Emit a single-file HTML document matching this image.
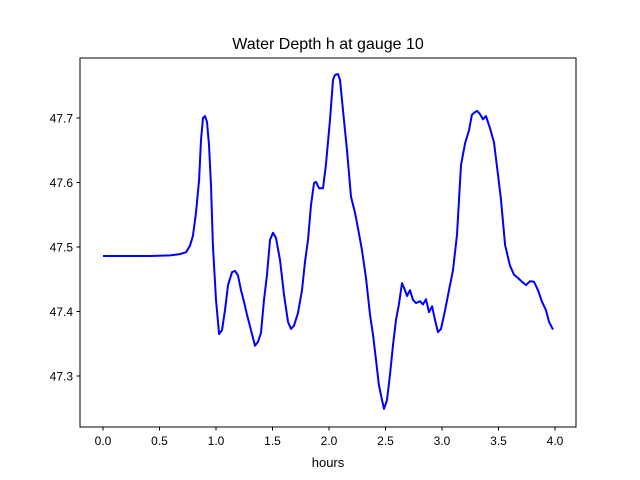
<!DOCTYPE html>
<html><head><meta charset="utf-8"><style>
body{margin:0;background:#fff}
svg{display:block;font-family:"Liberation Sans","DejaVu Sans",sans-serif}
</style></head><body>
<svg id="chart" width="640" height="480" viewBox="0 0 640 480" xmlns="http://www.w3.org/2000/svg">
<rect width="640" height="480" fill="#fff"/>
<text x="328" y="49" text-anchor="middle" font-size="16">Water Depth h at gauge 10</text>
<g id="ticks"></g>
<path id="line" fill="none" stroke="#0000ff" stroke-width="2" stroke-linejoin="round"/>
<rect x="80" y="58" width="496" height="369" fill="none" stroke="#000" stroke-width="1"/>
<text x="328" y="467" text-anchor="middle" font-size="13">hours</text>
</svg>
<script>
const hours=[0,0.416,0.593,0.681,0.735,0.770,0.796,0.823,0.850,0.867,0.885,0.903,0.920,0.938,0.956,0.973,1.000,1.027,1.053,1.080,1.106,1.142,1.168,1.195,1.221,1.248,1.274,1.319,1.345,1.372,1.398,1.425,1.451,1.478,1.504,1.531,1.566,1.602,1.637,1.664,1.690,1.726,1.761,1.788,1.814,1.841,1.867,1.885,1.912,1.947,1.973,2.009,2.035,2.053,2.080,2.097,2.124,2.159,2.195,2.230,2.257,2.292,2.327,2.363,2.389,2.416,2.442,2.469,2.487,2.513,2.540,2.566,2.593,2.619,2.646,2.673,2.690,2.717,2.743,2.770,2.805,2.832,2.858,2.885,2.912,2.938,2.965,2.991,3.027,3.062,3.097,3.133,3.168,3.204,3.239,3.265,3.283,3.310,3.336,3.363,3.389,3.425,3.460,3.496,3.522,3.558,3.602,3.637,3.673,3.708,3.743,3.779,3.814,3.850,3.885,3.920,3.947,3.982];
const depth=[47.486,47.486,47.487,47.489,47.492,47.502,47.517,47.553,47.604,47.666,47.700,47.703,47.694,47.658,47.596,47.503,47.418,47.365,47.371,47.402,47.441,47.461,47.463,47.456,47.433,47.415,47.395,47.365,47.347,47.353,47.367,47.418,47.457,47.511,47.522,47.514,47.480,47.426,47.384,47.373,47.378,47.398,47.433,47.477,47.511,47.565,47.599,47.601,47.591,47.591,47.627,47.697,47.759,47.767,47.768,47.759,47.712,47.650,47.578,47.553,47.529,47.495,47.452,47.395,47.364,47.325,47.286,47.263,47.249,47.263,47.302,47.348,47.387,47.411,47.444,47.433,47.424,47.433,47.418,47.413,47.416,47.411,47.419,47.399,47.408,47.387,47.368,47.373,47.402,47.433,47.464,47.519,47.627,47.661,47.681,47.705,47.708,47.711,47.706,47.698,47.703,47.684,47.662,47.612,47.573,47.503,47.471,47.457,47.452,47.446,47.441,47.447,47.446,47.433,47.415,47.402,47.384,47.372];
const xTicks=[0,0.5,1.0,1.5,2.0,2.5,3.0,3.5,4.0];
const xTickLabels=["0.0","0.5","1.0","1.5","2.0","2.5","3.0","3.5","4.0"];
const yTicks=[47.3,47.4,47.5,47.6,47.7];
const yTickLabels=["47.3","47.4","47.5","47.6","47.7"];
const X=h=>103+h*113;
const Y=v=>118+(47.7-v)*645;
const NS="http://www.w3.org/2000/svg";
const g=document.getElementById('ticks');
function mk(t,a){const e=document.createElementNS(NS,t);for(const k in a)e.setAttribute(k,a[k]);return e;}
xTicks.forEach((t,i)=>{
  const l=mk('line',{x1:X(t),x2:X(t),y1:427,y2:430.5,stroke:'#000'});
  
  
  g.appendChild(l);
  const s=mk('text',{x:X(t),y:445,'text-anchor':'middle','font-size':'12'});
  
  
  s.textContent=xTickLabels[i];g.appendChild(s);
});
yTicks.forEach((t,i)=>{
  const l=mk('line',{x1:76.5,x2:80,y1:Y(t),y2:Y(t),stroke:'#000'});
  
  
  g.appendChild(l);
  const s=mk('text',{x:73,y:Y(t)+4.5,'text-anchor':'end','font-size':'12'});
  
  
  s.textContent=yTickLabels[i];g.appendChild(s);
});
document.getElementById('line').setAttribute('d',hours.map((h,i)=>(i?'L':'M')+X(h).toFixed(1)+','+Y(depth[i]).toFixed(1)).join(''));
</script>
</body></html>
